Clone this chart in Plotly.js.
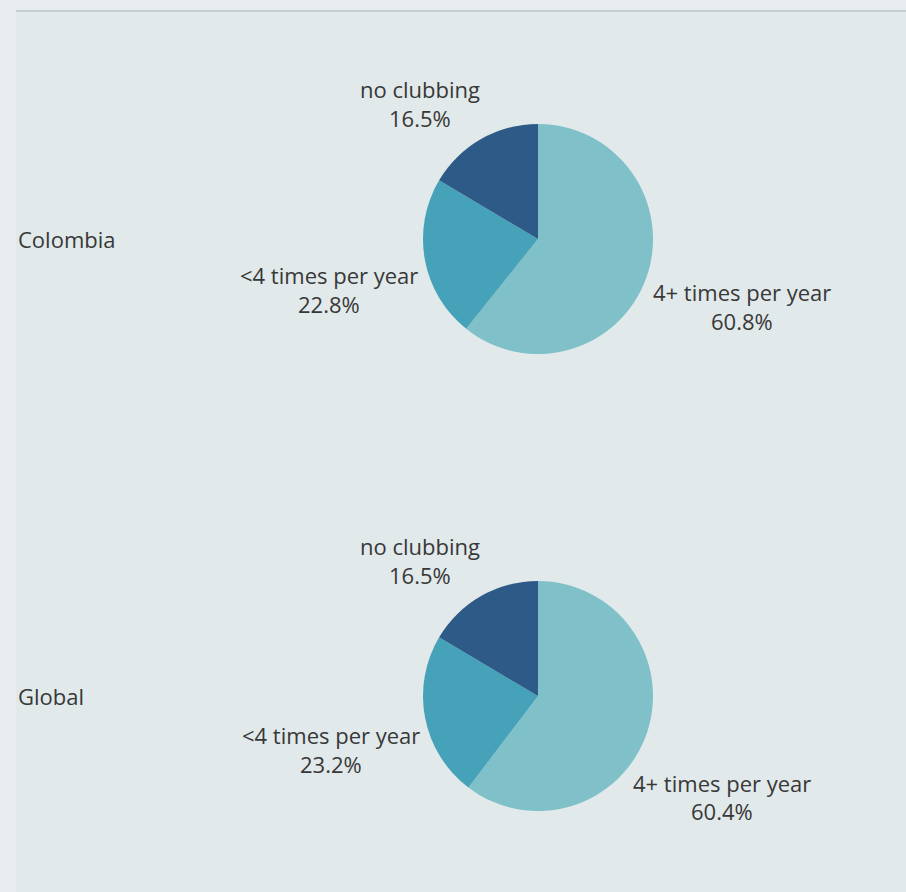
<!DOCTYPE html>
<html>
<head>
<meta charset="utf-8">
<script src="https://cdn.plot.ly/plotly-3.0.1.min.js"></script>
<style>html,body{margin:0;padding:0;background:#e7ecef;}#chart{width:906px;height:892px;}</style>
</head>
<body>
<div id="chart"></div>
<script>
// ---- data ----
const regions = ["Colombia", "Global"];
const categories = ["4+ times per year", "<4 times per year", "no clubbing"];
const colombiaValues = [60.8, 22.8, 16.5];
const globalValues = [60.4, 23.2, 16.5];
const sliceColors = ["#7fc0c9", "#45a2b9", "#2d5a86"];

// ---- layout helpers (pixel -> paper) ----
const W = 906, H = 892;
const px = x => x / W;
const py = y => 1 - y / H;

const allValues = [colombiaValues, globalValues];
// pie boxes in pixels: [x0, x1, y0(top), y1(bottom)]
const pieBoxes = [[423, 653, 124, 354], [423, 653, 581, 811]];
// label centres in pixels for each category: [x, yName, yPct]
const labelPos = [
  [[742, 292, 321], [329, 275, 304], [420, 89, 118]],
  [[722, 783, 811], [331, 735, 764], [420, 546, 575]]
];
const rowLabelY = [239, 696];

const font = {family: "Open Sans, Noto Sans, sans-serif", size: 22, color: "#383838"};

const traces = allValues.map((vals, i) => ({
  type: "pie",
  values: vals,
  labels: categories,
  sort: false,
  direction: "clockwise",
  rotation: 0,
  textinfo: "none",
  hoverinfo: "label+percent",
  marker: {colors: sliceColors, line: {width: 0}},
  showlegend: false,
  domain: {x: [px(pieBoxes[i][0]), px(pieBoxes[i][1])], y: [py(pieBoxes[i][3]), py(pieBoxes[i][2])]}
}));

const annotations = [];
allValues.forEach((vals, i) => {
  categories.forEach((c, j) => {
    const p = labelPos[i][j];
    annotations.push({xref: "paper", yref: "paper", x: px(p[0]), y: py(p[1]), xanchor: "center", yanchor: "middle",
      text: c.replace("<", "&lt;"), showarrow: false, font: font});
    annotations.push({xref: "paper", yref: "paper", x: px(p[0]), y: py(p[2]), xanchor: "center", yanchor: "middle",
      text: (vals[j]).toFixed(1) + "%", showarrow: false, font: font});
  });
  annotations.push({xref: "paper", yref: "paper", x: px(16), y: py(rowLabelY[i]), xanchor: "left", yanchor: "middle",
    text: regions[i], showarrow: false, font: font});
});

const layout = {
  width: W, height: H,
  margin: {l: 0, r: 0, t: 0, b: 0},
  paper_bgcolor: "#e7ecef",
  showlegend: false,
  shapes: [
    {type: "rect", xref: "paper", yref: "paper", x0: px(16), x1: 1, y0: 0, y1: py(10), fillcolor: "#e1e9ea", line: {width: 0}, layer: "below"},
    {type: "line", xref: "paper", yref: "paper", x0: px(16), x1: 1, y0: py(11), y1: py(11), line: {color: "#c9cccf", width: 2}, layer: "below"}
  ],
  annotations: annotations
};

Plotly.newPlot("chart", traces, layout, {displayModeBar: false});
</script>
</body>
</html>
